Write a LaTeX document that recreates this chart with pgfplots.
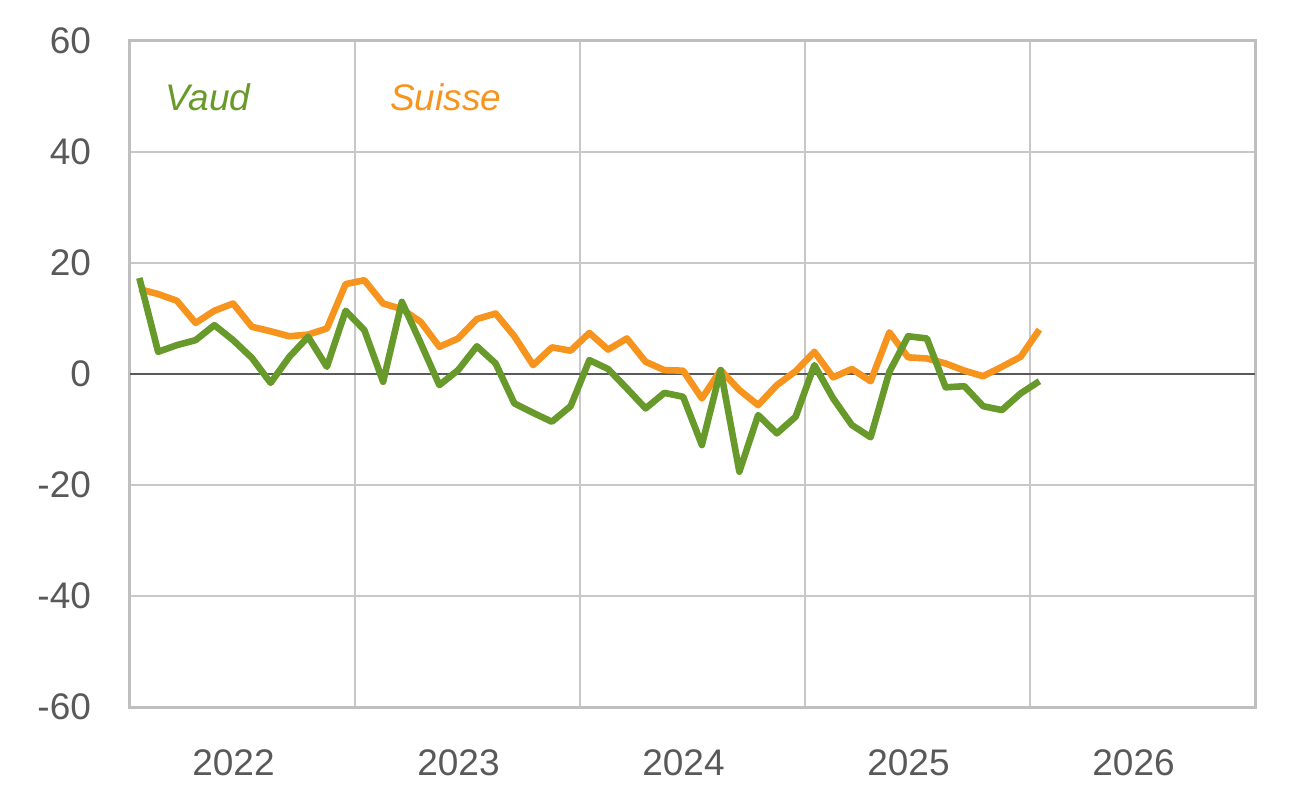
\documentclass[border=0pt]{standalone}
\usepackage{pgfplots}
\pgfplotsset{compat=1.18}
\usepackage{fontspec}
\setmainfont{Liberation Sans}
\definecolor{vaud}{HTML}{679A2A}
\definecolor{suisse}{HTML}{F7941D}
\definecolor{frame}{HTML}{BFBFBF}
\definecolor{gridc}{HTML}{C8C8C8}
\definecolor{txt}{HTML}{595959}
\begin{document}
\begin{tikzpicture}
\useasboundingbox (-65pt,-45pt) rectangle (593pt,353.5pt);
\begin{axis}[
  at={(0,0)}, anchor=south west,
  scale only axis, width=562.5pt, height=333pt,
  xmin=0, xmax=60, ymin=-60, ymax=60,
  xtick={0,12,24,36,48,60},
  xticklabels={2022,2023,2024,2025,2026},
  x tick label as interval=true,
  ytick={-60,-40,...,60},
  grid=major,
  grid style={draw=gridc, line width=0.75pt},
  axis line style={draw=frame, line width=1.5pt},
  major tick length=0pt,
  tick style={draw=none},
  tick label style={font=\fontsize{18.5}{22}\selectfont, text=txt},
  /pgf/number format/assume math mode=true,
  yticklabel style={anchor=east, xshift=-16pt},
  xticklabel style={anchor=north, yshift=-18pt, xshift=-4.5pt},
  extra y ticks={0},
  extra y tick labels={},
  extra y tick style={grid style={draw=txt, line width=1.2pt}},
  clip=false,
]
\addplot[suisse, line width=3.3pt, line join=round] coordinates {
(0.5,15.3)(1.5,14.4)(2.5,13.2)(3.5,9.2)(4.5,11.4)(5.5,12.7)(6.5,8.5)(7.5,7.7)(8.5,6.8)(9.5,7.1)(10.5,8.2)(11.5,16.2)
(12.5,16.9)(13.5,12.7)(14.5,11.7)(15.5,9.4)(16.5,4.9)(17.5,6.4)(18.5,9.9)(19.5,10.9)(20.5,6.8)(21.5,1.6)(22.5,4.8)(23.5,4.2)
(24.5,7.4)(25.5,4.4)(26.5,6.4)(27.5,2.2)(28.5,0.7)(29.5,0.6)(30.5,-4.4)(31.5,0.7)(32.5,-2.9)(33.5,-5.6)(34.5,-2.0)(35.5,0.5)
(36.5,4.0)(37.5,-0.6)(38.5,0.9)(39.5,-1.3)(40.5,7.5)(41.5,3.0)(42.5,2.8)(43.5,1.9)(44.5,0.6)(45.5,-0.4)(46.5,1.3)(47.5,3.1)
(48.5,8.0)
};
\addplot[vaud, line width=3.3pt, line join=round] coordinates {
(0.5,17.3)(1.5,4.0)(2.5,5.2)(3.5,6.1)(4.5,8.8)(5.5,6.1)(6.5,2.9)(7.5,-1.6)(8.5,3.1)(9.5,6.7)(10.5,1.3)(11.5,11.4)
(12.5,7.9)(13.5,-1.4)(14.5,13.0)(15.5,5.6)(16.5,-2.0)(17.5,0.7)(18.5,5.0)(19.5,1.9)(20.5,-5.3)(21.5,-7.0)(22.5,-8.6)(23.5,-5.8)
(24.5,2.5)(25.5,0.9)(26.5,-2.6)(27.5,-6.2)(28.5,-3.4)(29.5,-4.1)(30.5,-12.8)(31.5,0.7)(32.5,-17.6)(33.5,-7.4)(34.5,-10.7)(35.5,-7.7)
(36.5,1.6)(37.5,-4.4)(38.5,-9.2)(39.5,-11.4)(40.5,0.4)(41.5,6.8)(42.5,6.4)(43.5,-2.4)(44.5,-2.2)(45.5,-5.8)(46.5,-6.5)(47.5,-3.5)
(48.5,-1.3)
};
\node[anchor=west, inner sep=0pt, text=vaud, font=\fontsize{18.5}{22}\selectfont\itshape] at (rel axis cs:0.031,0.916) {Vaud};
\node[anchor=west, inner sep=0pt, text=suisse, font=\fontsize{18.5}{22}\selectfont\itshape] at (rel axis cs:0.231,0.916) {Suisse};
\end{axis}
\end{tikzpicture}
\end{document}
